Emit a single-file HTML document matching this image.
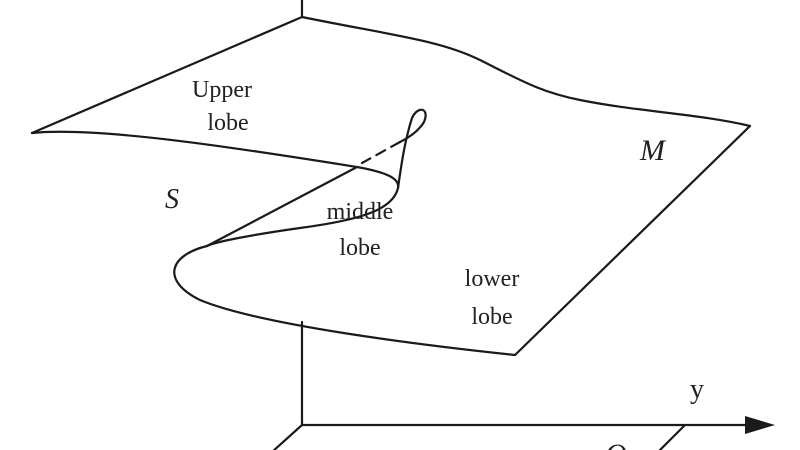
<!DOCTYPE html>
<html><head><style>
html,body{margin:0;padding:0;background:#fff;}
svg{display:block;}
text{font-family:"Liberation Serif",serif;fill:#222;}
</style></head><body>
<svg width="800" height="450" viewBox="0 0 800 450">
<g fill="none" stroke="#1a1a1a" stroke-width="2.2" stroke-linecap="round" stroke-linejoin="round">
<line x1="302" y1="0" x2="302" y2="17"/>
<line x1="302" y1="322" x2="302" y2="425"/>
<line x1="302" y1="425" x2="745" y2="425"/>
<line x1="302" y1="425" x2="272" y2="452"/>
<line x1="685" y1="425" x2="658" y2="452"/>
<path d="M302 17 L32 133"/>
<path d="M302 17 C390 35 440 40 480 60 C520 80 540 92 580 100 C640 112 700 114 750 126"/>
<path d="M750 126 L515 355"/>
<path d="M32 133 C100 126 250 150 357 167 C385 172 400 178 398 188 C393 210 360 220 300 228 C250 235 215 242 207 246"/>
<path d="M357 167 L207 246"/>
<path d="M207 246 C170 255 160 280 200 300 C260 325 420 345 515 355"/>
<path d="M398 188 C402 160 405 140 412 118 C418 105 430 108 424 122 C418 132 408 138 400 142"/>
<path d="M400 142 L362 163" stroke-dasharray="10 7"/>
</g>
<path d="M745 416 L775 425 L745 434 Z" fill="#1a1a1a"/>
<text x="222" y="97" font-size="24" text-anchor="middle">Upper</text>
<text x="228" y="130" font-size="24" text-anchor="middle">lobe</text>
<text x="360" y="219" font-size="24" text-anchor="middle">middle</text>
<text x="360" y="255" font-size="24" text-anchor="middle">lobe</text>
<text x="492" y="286" font-size="24" text-anchor="middle">lower</text>
<text x="492" y="324" font-size="24" text-anchor="middle">lobe</text>
<text x="165" y="208" font-size="28" font-style="italic">S</text>
<text x="640" y="160" font-size="30" font-style="italic">M</text>
<text x="690" y="398" font-size="28">y</text>
<text x="605" y="464" font-size="30" font-style="italic">O</text>
</svg>
</body></html>
